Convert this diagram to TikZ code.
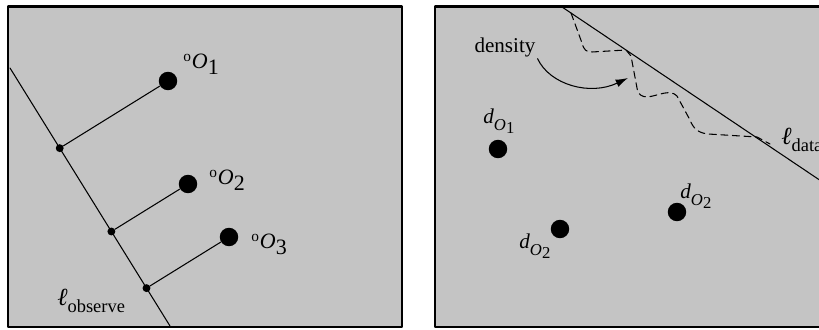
\documentclass[tikz,border=0pt]{standalone}
\usepackage{fontspec}
\setmainfont{Liberation Serif}
\usetikzlibrary{arrows.meta,calc}
\definecolor{panelgray}{RGB}{196,196,196}
\newcommand{\olab}[1]{\textsuperscript{o}\textit{O}\raisebox{-0.25em}{#1}}
\newcommand{\dlab}[1]{\textit{d}\raisebox{-0.3em}{\fontsize{9.5}{11}\selectfont\textit{O}\raisebox{-0.2em}{#1}}}
\newcommand{\llab}[1]{{\fontsize{14}{16}\selectfont\textit{ℓ}}\raisebox{-0.3em}{\fontsize{10.5}{12}\selectfont #1}}
\begin{document}
\begin{tikzpicture}[x=0.02cm, y=-0.02cm, line join=round, line cap=round, >={Latex[length=7pt,width=4.5pt]},
	bigdot/.style={circle, fill=black, inner sep=0pt, minimum size=10.5pt},
	smalldot/.style={circle, fill=black, inner sep=0pt, minimum size=4.5pt},
	panel/.style={draw, line width=1.7pt, fill=panelgray},
	thin line/.style={line width=0.6pt},
	olabel/.style={anchor=base west, inner sep=0pt, font=\fontsize{12.5}{15}\selectfont},
	dlabel/.style={anchor=base west, inner sep=0pt, font=\fontsize{12}{14}\selectfont}]
	\useasboundingbox (0,0) rectangle (819,330);
	% hai khung
	\path[panel] (8,7) rectangle (402,327);
	\path[panel] (435,7) rectangle (840,327);
	% khung trái: đường quan sát
	\coordinate (obsA) at (10,68); \coordinate (obsB) at (170,326);
	\draw[thin line] (obsA)--(obsB);
	\node[bigdot] (o1) at (168,81) {};
	\node[bigdot] (o2) at (188,184) {};
	\node[bigdot] (o3) at (229,237) {};
	\foreach \i in {1,2,3}{
		\node[smalldot] (p\i) at ($(obsA)!(o\i)!(obsB)$) {};
		\draw[thin line] (p\i)--(o\i);
	}
	\node[olabel] (lo1) at (183,69) {\olab{1}};
	\node[olabel] (lo2) at (209,185) {\olab{2}};
	\node[olabel] (lo3) at (251,249) {\olab{3}};
	\node[olabel] (lobs) at (57,306) {\llab{observe}};
	% khung phải: đường dữ liệu và mật độ
	\coordinate (datA) at (562,7); \coordinate (datB) at (830,187);
	\draw[thin line] (datA)--(datB);
	\node[olabel] (ldat) at (781,145) {\llab{data}};
	\draw[thin line, dash pattern=on 4pt off 2.6pt] (571,13) -- (582,43) .. controls (584,50) and (586,52) .. (592,52) -- (626,50)
		-- (631,56) -- (637,88) .. controls (638,95) and (642,97) .. (648,97) .. controls (660,95) and (670,89) .. (677,96)
		-- (690,120) .. controls (693,128) and (698,133) .. (708,134) -- (757,137) -- (770,144);
	\node[font=\fontsize{12}{14}\selectfont, inner sep=1pt] (dens) at (505,47) {density};
	\coordinate (denstip) at (628,78);
	\draw[thin line, ->] (dens.south east) .. controls (550,85) and (590,96) .. (denstip);
	\node[bigdot] (d1) at (498,149) {};
	\node[bigdot] (d2) at (560,229) {};
	\node[bigdot] (d3) at (677,212) {};
	\node[dlabel] (ld1) at (483,124) {\dlab{1}};
	\node[dlabel] (ld2) at (519,249) {\dlab{2}};
	\node[dlabel] (ld3) at (680,199) {\dlab{2}};
\end{tikzpicture}
\end{document}
